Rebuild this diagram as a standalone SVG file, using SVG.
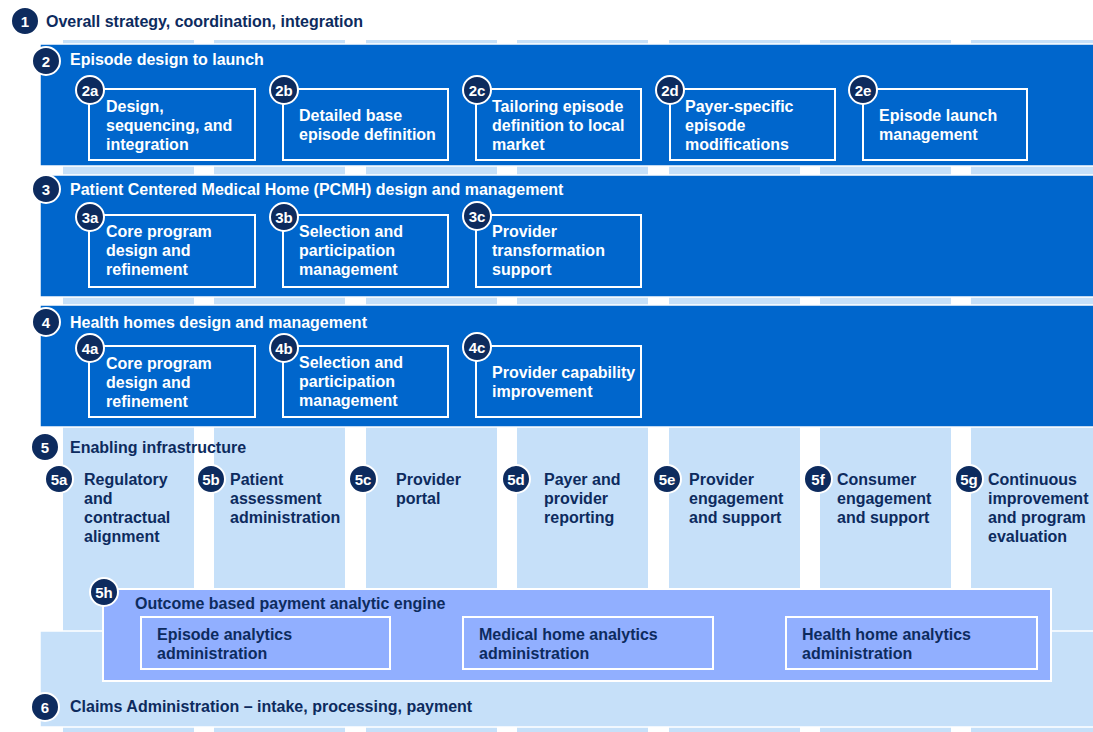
<svg xmlns="http://www.w3.org/2000/svg" width="1093" height="732" viewBox="0 0 1093 732">
<style>
text{font-family:"Liberation Sans",Arial,sans-serif;font-weight:bold;font-size:16px}
.col{fill:#C6E0F9}
.band{fill:#0066CC;stroke:#fff;stroke-width:1.5}
.box{fill:none;stroke:#fff;stroke-width:2}
.wt{fill:#fff}
.nt{fill:#0D2B5E}
.c{fill:#0D2B5E;stroke:#fff;stroke-width:2}
.cl{fill:#fff;font-size:15px;text-anchor:middle}
.lband{fill:#C6E0F9;stroke:#fff;stroke-width:1.5}
.eng{fill:#91AFFF;stroke:#fff;stroke-width:2}
</style>
<rect width="1093" height="732" fill="#fff"/>
<g id="columns">
<rect class="col" x="63" y="40" width="131" height="692"/>
<rect class="col" x="214" y="40" width="131" height="692"/>
<rect class="col" x="366" y="40" width="131" height="692"/>
<rect class="col" x="517" y="40" width="131" height="692"/>
<rect class="col" x="669" y="40" width="131" height="692"/>
<rect class="col" x="820" y="40" width="131" height="692"/>
<rect class="col" x="971" y="40" width="130" height="692"/>
</g>
<g id="connectors"></g>
<g id="n1">
<circle class="c" cx="25" cy="21" r="14" stroke="none"/>
<text class="cl" x="25" y="26.5">1</text>
<text class="nt" x="46" y="27">Overall strategy, coordination, integration</text>
</g>
<g id="n2">
<rect class="band" x="40" y="44" width="1060" height="122"/>
<circle class="c" cx="46" cy="61" r="14"/>
<text class="cl" x="46" y="66.5">2</text>
<text class="wt" x="70" y="65">Episode design to launch</text>
<g id="n2a"><rect class="box" x="89" y="89" width="166" height="71"/><circle class="c" cx="90" cy="90" r="14"/><text class="cl" x="90" y="95.5">2a</text>
<text class="wt" x="106" y="112">Design,</text><text class="wt" x="106" y="131">sequencing, and</text><text class="wt" x="106" y="150">integration</text></g>
<g id="n2b"><rect class="box" x="283" y="89" width="165" height="71"/><circle class="c" cx="284" cy="90" r="14"/><text class="cl" x="284" y="95.5">2b</text>
<text class="wt" x="299" y="121">Detailed base</text><text class="wt" x="299" y="140">episode definition</text></g>
<g id="n2c"><rect class="box" x="476" y="89" width="165" height="71"/><circle class="c" cx="477" cy="90" r="14"/><text class="cl" x="477" y="95.5">2c</text>
<text class="wt" x="492" y="112">Tailoring episode</text><text class="wt" x="492" y="131">definition to local</text><text class="wt" x="492" y="150">market</text></g>
<g id="n2d"><rect class="box" x="670" y="89" width="165" height="71"/><circle class="c" cx="670" cy="90" r="14"/><text class="cl" x="670" y="95.5">2d</text>
<text class="wt" x="685" y="112">Payer-specific</text><text class="wt" x="685" y="131">episode</text><text class="wt" x="685" y="150">modifications</text></g>
<g id="n2e"><rect class="box" x="863" y="89" width="164" height="71"/><circle class="c" cx="863" cy="90" r="14"/><text class="cl" x="863" y="95.5">2e</text>
<text class="wt" x="879" y="121">Episode launch</text><text class="wt" x="879" y="140">management</text></g>
</g>
<g id="n3">
<rect class="band" x="40" y="175" width="1060" height="122"/>
<circle class="c" cx="46" cy="189" r="14"/>
<text class="cl" x="46" y="194.5">3</text>
<text class="wt" x="70" y="195">Patient Centered Medical Home (PCMH) design and management</text>
<g id="n3a"><rect class="box" x="89" y="215" width="166" height="72"/><circle class="c" cx="90" cy="217" r="14"/><text class="cl" x="90" y="222.5">3a</text>
<text class="wt" x="106" y="237">Core program</text><text class="wt" x="106" y="256">design and</text><text class="wt" x="106" y="275">refinement</text></g>
<g id="n3b"><rect class="box" x="283" y="215" width="165" height="72"/><circle class="c" cx="284" cy="217" r="14"/><text class="cl" x="284" y="222.5">3b</text>
<text class="wt" x="299" y="237">Selection and</text><text class="wt" x="299" y="256">participation</text><text class="wt" x="299" y="275">management</text></g>
<g id="n3c"><rect class="box" x="476" y="215" width="165" height="72"/><circle class="c" cx="477" cy="216" r="14"/><text class="cl" x="477" y="221.5">3c</text>
<text class="wt" x="492" y="237">Provider</text><text class="wt" x="492" y="256">transformation</text><text class="wt" x="492" y="275">support</text></g>
</g>
<g id="n4">
<rect class="band" x="40" y="305" width="1060" height="122"/>
<circle class="c" cx="46" cy="322" r="14"/>
<text class="cl" x="46" y="327.5">4</text>
<text class="wt" x="70" y="328">Health homes design and management</text>
<g id="n4a"><rect class="box" x="89" y="346" width="166" height="71"/><circle class="c" cx="90" cy="348" r="14"/><text class="cl" x="90" y="353.5">4a</text>
<text class="wt" x="106" y="369">Core program</text><text class="wt" x="106" y="388">design and</text><text class="wt" x="106" y="407">refinement</text></g>
<g id="n4b"><rect class="box" x="283" y="346" width="165" height="71"/><circle class="c" cx="284" cy="348" r="14"/><text class="cl" x="284" y="353.5">4b</text>
<text class="wt" x="299" y="368">Selection and</text><text class="wt" x="299" y="387">participation</text><text class="wt" x="299" y="406">management</text></g>
<g id="n4c"><rect class="box" x="476" y="346" width="165" height="71"/><circle class="c" cx="477" cy="347" r="14"/><text class="cl" x="477" y="352.5">4c</text>
<text class="wt" x="492" y="378">Provider capability</text><text class="wt" x="492" y="397">improvement</text></g>
</g>
<g id="n5">
<circle class="c" cx="45" cy="447" r="14"/>
<text class="cl" x="45" y="452.5">5</text>
<text class="nt" x="70" y="453">Enabling infrastructure</text>
<g id="n5a"><circle class="c" cx="59" cy="479" r="14"/><text class="cl" x="59" y="484.5">5a</text>
<text class="nt" x="84" y="485">Regulatory</text><text class="nt" x="84" y="504">and</text><text class="nt" x="84" y="523">contractual</text><text class="nt" x="84" y="542">alignment</text></g>
<g id="n5b"><circle class="c" cx="211" cy="479" r="14"/><text class="cl" x="211" y="484.5">5b</text>
<text class="nt" x="230" y="485">Patient</text><text class="nt" x="230" y="504">assessment</text><text class="nt" x="230" y="523">administration</text></g>
<g id="n5c"><circle class="c" cx="363" cy="479" r="14"/><text class="cl" x="363" y="484.5">5c</text>
<text class="nt" x="396" y="485">Provider</text><text class="nt" x="396" y="504">portal</text></g>
<g id="n5d"><circle class="c" cx="516" cy="479" r="14"/><text class="cl" x="516" y="484.5">5d</text>
<text class="nt" x="544" y="485">Payer and</text><text class="nt" x="544" y="504">provider</text><text class="nt" x="544" y="523">reporting</text></g>
<g id="n5e"><circle class="c" cx="667" cy="479" r="14"/><text class="cl" x="667" y="484.5">5e</text>
<text class="nt" x="689" y="485">Provider</text><text class="nt" x="689" y="504">engagement</text><text class="nt" x="689" y="523">and support</text></g>
<g id="n5f"><circle class="c" cx="818" cy="479" r="14"/><text class="cl" x="818" y="484.5">5f</text>
<text class="nt" x="837" y="485">Consumer</text><text class="nt" x="837" y="504">engagement</text><text class="nt" x="837" y="523">and support</text></g>
<g id="n5g"><circle class="c" cx="969" cy="479" r="14"/><text class="cl" x="969" y="484.5">5g</text>
<text class="nt" x="988" y="485">Continuous</text><text class="nt" x="988" y="504">improvement</text><text class="nt" x="988" y="523">and program</text><text class="nt" x="988" y="542">evaluation</text></g>
</g>
<g id="n6">
<rect class="lband" x="40" y="631" width="1060" height="96"/>
<circle class="c" cx="45" cy="707" r="14"/>
<text class="cl" x="45" y="712.5">6</text>
<text class="nt" x="70" y="712">Claims Administration – intake, processing, payment</text>
</g>
<g id="n5h">
<rect class="eng" x="103" y="589" width="948" height="92"/>
<circle class="c" cx="104" cy="592" r="14"/>
<text class="cl" x="104" y="597.5">5h</text>
<text class="nt" x="135" y="609">Outcome based payment analytic engine</text>
<rect class="box" x="141" y="617" width="249" height="52"/>
<text class="nt" x="157" y="640">Episode analytics</text><text class="nt" x="157" y="659">administration</text>
<rect class="box" x="463" y="617" width="250" height="52"/>
<text class="nt" x="479" y="640">Medical home analytics</text><text class="nt" x="479" y="659">administration</text>
<rect class="box" x="786" y="617" width="251" height="52"/>
<text class="nt" x="802" y="640">Health home analytics</text><text class="nt" x="802" y="659">administration</text>
</g>
</svg>
